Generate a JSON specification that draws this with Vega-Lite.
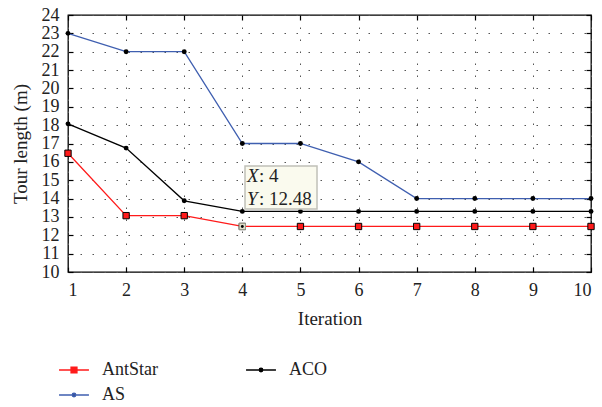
{
  "$schema": "https://vega.github.io/schema/vega-lite/v6.json",
  "width": 523,
  "height": 257,
  "autosize": "none",
  "padding": {"left": 68, "top": 15, "right": 11, "bottom": 135},
  "background": "white",
  "config": {
    "font": "Liberation Serif",
    "view": {"stroke": "black", "strokeWidth": 1.3},
    "axis": {
      "domain": false,
      "tickSize": -5,
      "tickColor": "black",
      "tickWidth": 1.2,
      "labelFont": "Liberation Serif",
      "labelFontSize": 18,
      "labelColor": "#222",
      "labelOverlap": false,
      "titleFont": "Liberation Serif",
      "titleFontSize": 19,
      "titleFontWeight": "normal",
      "titleColor": "#222",
      "gridColor": "#555",
      "gridDash": [1.5, 10.5],
      "gridWidth": 1,
      "gridOpacity": 1
    }
  },
  "datasets": {
    "series": [
      {"it": 1, "len": 16.47, "alg": "AntStar"},
      {"it": 2, "len": 13.07, "alg": "AntStar"},
      {"it": 3, "len": 13.07, "alg": "AntStar"},
      {"it": 4, "len": 12.48, "alg": "AntStar"},
      {"it": 5, "len": 12.48, "alg": "AntStar"},
      {"it": 6, "len": 12.48, "alg": "AntStar"},
      {"it": 7, "len": 12.48, "alg": "AntStar"},
      {"it": 8, "len": 12.48, "alg": "AntStar"},
      {"it": 9, "len": 12.48, "alg": "AntStar"},
      {"it": 10, "len": 12.48, "alg": "AntStar"},
      {"it": 1, "len": 23, "alg": "AS"},
      {"it": 2, "len": 22, "alg": "AS"},
      {"it": 3, "len": 22, "alg": "AS"},
      {"it": 4, "len": 17, "alg": "AS"},
      {"it": 5, "len": 17, "alg": "AS"},
      {"it": 6, "len": 16, "alg": "AS"},
      {"it": 7, "len": 14, "alg": "AS"},
      {"it": 8, "len": 14, "alg": "AS"},
      {"it": 9, "len": 14, "alg": "AS"},
      {"it": 10, "len": 14, "alg": "AS"},
      {"it": 1, "len": 18.07, "alg": "ACO"},
      {"it": 2, "len": 16.75, "alg": "ACO"},
      {"it": 3, "len": 13.88, "alg": "ACO"},
      {"it": 4, "len": 13.3, "alg": "ACO"},
      {"it": 5, "len": 13.3, "alg": "ACO"},
      {"it": 6, "len": 13.3, "alg": "ACO"},
      {"it": 7, "len": 13.3, "alg": "ACO"},
      {"it": 8, "len": 13.3, "alg": "ACO"},
      {"it": 9, "len": 13.3, "alg": "ACO"},
      {"it": 10, "len": 13.3, "alg": "ACO"}
    ],
    "tipbox": [
      {"x1": 4.046, "x2": 5.285, "y1": 15.77, "y2": 13.43}
    ],
    "tiptext": [
      {"tx": 4.08, "ty": 14.92, "letter": "X", "rest": ": 4"},
      {"tx": 4.08, "ty": 13.66, "letter": "Y", "rest": ": 12.48"}
    ],
    "tippoint": [
      {"it": 4, "len": 12.48}
    ]
  },
  "layer": [
    {
      "data": {"name": "series"},
      "mark": {"type": "line", "strokeWidth": 1.3},
      "encoding": {
        "x": {
          "field": "it", "type": "quantitative",
          "scale": {"domain": [1, 10], "nice": false, "zero": false},
          "axis": {"orient": "bottom", "values": [1,2,3,4,5,6,7,8,9,10], "title": "Iteration", "grid": true, "labelFont": "Liberation Serif", "labelPadding": 14, "titlePadding": 10}
        },
        "y": {
          "field": "len", "type": "quantitative",
          "scale": {"domain": [10, 24], "nice": false, "zero": false},
          "axis": {"orient": "left", "values": [10,11,12,13,14,15,16,17,18,19,20,21,22,23,24], "title": "Tour length (m)", "grid": true, "labelFont": "Liberation Serif", "labelPadding": 14, "titlePadding": 11}
        },
        "color": {
          "field": "alg", "type": "nominal",
          "scale": {"domain": ["AntStar", "AS", "ACO"], "range": ["#ff1a1a", "#3f5fb0", "#000000"]},
          "legend": {
            "orient": "none",
            "legendX": -8,
            "legendY": 341,
            "columns": 2,
            "title": null,
            "symbolSize": 676,
            "symbolStrokeWidth": 1.5,
            "labelFont": "Liberation Serif",
            "labelFontSize": 18,
            "labelColor": "#222",
            "labelOffset": 14,
            "rowPadding": 2,
            "columnPadding": 85,
            "encode": {
              "symbols": {
                "update": {
                  "shape": {"signal": "datum.value === 'AntStar' ? 'M-1.15,0H1.15M-0.22,-0.22H0.22V0.22H-0.22Z' : 'M-1.15,0H1.15M-0.13,0A0.13,0.13,0,1,0,0.13,0A0.13,0.13,0,1,0,-0.13,0'"},
                  "fill": {"signal": "datum.value === 'AntStar' ? '#ff1a1a' : '#000000'"},
                  "fillOpacity": {"value": 1},
                  "opacity": {"value": 1}
                }
              }
            }
          }
        }
      }
    },
    {
      "data": {"name": "series"},
      "transform": [{"filter": "datum.alg === 'AntStar'"}],
      "mark": {"type": "point", "shape": "square", "filled": true, "fill": "#ff1a1a", "stroke": "black", "strokeWidth": 1, "size": 40, "opacity": 1},
      "encoding": {
        "x": {"field": "it", "type": "quantitative", "axis": null},
        "y": {"field": "len", "type": "quantitative", "axis": null}
      }
    },
    {
      "data": {"name": "series"},
      "transform": [{"filter": "datum.alg !== 'AntStar'"}],
      "mark": {"type": "circle", "fill": "black", "size": 24, "opacity": 1},
      "encoding": {
        "x": {"field": "it", "type": "quantitative", "axis": null},
        "y": {"field": "len", "type": "quantitative", "axis": null}
      }
    },
    {
      "data": {"name": "tippoint"},
      "mark": {"type": "point", "shape": "square", "filled": true, "fill": "#deddc8", "stroke": "#999988", "strokeWidth": 1, "size": 40, "opacity": 1},
      "encoding": {
        "x": {"field": "it", "type": "quantitative", "axis": null},
        "y": {"field": "len", "type": "quantitative", "axis": null}
      }
    },
    {
      "data": {"name": "tippoint"},
      "mark": {"type": "circle", "fill": "black", "size": 8, "opacity": 1},
      "encoding": {
        "x": {"field": "it", "type": "quantitative", "axis": null},
        "y": {"field": "len", "type": "quantitative", "axis": null}
      }
    },
    {
      "data": {"name": "tipbox"},
      "mark": {"type": "rect", "fill": "#fafaee", "stroke": "#c0c0b8", "strokeWidth": 1.5},
      "encoding": {
        "x": {"field": "x1", "type": "quantitative", "axis": {"orient": "top", "values": [1,2,3,4,5,6,7,8,9,10], "labels": false, "title": null, "grid": false}},
        "x2": {"field": "x2"},
        "y": {"field": "y1", "type": "quantitative", "axis": {"orient": "right", "values": [10,11,12,13,14,15,16,17,18,19,20,21,22,23,24], "labels": false, "title": null, "grid": false}},
        "y2": {"field": "y2"}
      }
    },
    {
      "data": {"name": "tiptext"},
      "mark": {"type": "text", "align": "left", "baseline": "alphabetic", "fontStyle": "italic", "fontSize": 19, "color": "#222"},
      "encoding": {
        "x": {"field": "tx", "type": "quantitative", "axis": null},
        "y": {"field": "ty", "type": "quantitative", "axis": null},
        "text": {"field": "letter"}
      }
    },
    {
      "data": {"name": "tiptext"},
      "mark": {"type": "text", "align": "left", "baseline": "alphabetic", "fontSize": 19, "color": "#222", "dx": 12},
      "encoding": {
        "x": {"field": "tx", "type": "quantitative", "axis": null},
        "y": {"field": "ty", "type": "quantitative", "axis": null},
        "text": {"field": "rest"}
      }
    }
  ],
  "resolve": {"axis": {"x": "independent", "y": "independent"}}
}
